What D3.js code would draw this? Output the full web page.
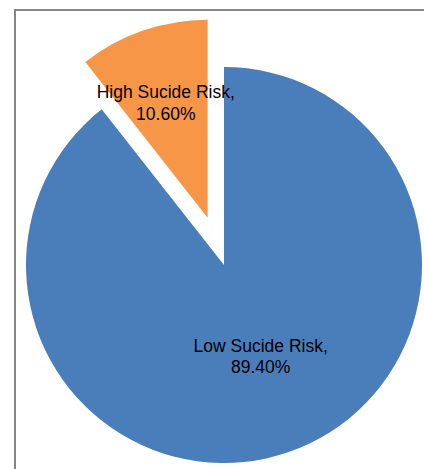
<!DOCTYPE html>
<html>
<head>
<meta charset="utf-8">
<script src="https://cdn.jsdelivr.net/npm/d3@7"></script>
<style>
  html, body { margin: 0; padding: 0; background: #fff; }
  svg { display: block; }
</style>
</head>
<body>
<svg id="chart" width="424" height="469"></svg>
<script>
const categories = ["High Sucide Risk", "Low Sucide Risk"];
const values = [10.6, 89.4];
const labels = ["10.60%", "89.40%"];
const colors = ["#F79646", "#4A7EBB"];

const svg = d3.select("#chart");
const W = 424, H = 469;

// chart border (clipped by the window at right and bottom)
svg.append("path")
  .attr("d", `M15,${H} L15,10 L${W},10`)
  .attr("fill", "none")
  .attr("stroke", "#868686")
  .attr("stroke-width", 2);

const cx = 224, cy = 265, R = 198, explode = 50;

const data = categories.map((c, i) => ({ cat: c, value: values[i], label: labels[i], color: colors[i] }));

const total = d3.sum(values);
const pie = d3.pie()
  .sort(null)
  .value(d => d.value)
  .startAngle(-2 * Math.PI * values[0] / total)
  .endAngle(2 * Math.PI - 2 * Math.PI * values[0] / total);

const arcs = pie(data);
const arc = d3.arc().innerRadius(0).outerRadius(R);

const g = svg.append("g").attr("transform", `translate(${cx},${cy})`);
const sliceLayer = g.append("g");
const labelLayer = g.append("g");

const labelR = [122, 100];
const labelShift = [[-2, 1], [4, -3]];

arcs.forEach((a, i) => {
  const mid = (a.startAngle + a.endAngle) / 2;
  const off = i === 0 ? explode : 0;
  const ox = Math.sin(mid) * off, oy = -Math.cos(mid) * off;
  sliceLayer.append("path")
    .attr("transform", `translate(${ox},${oy})`)
    .attr("d", arc(a))
    .attr("fill", a.data.color);
  const lx = ox + Math.sin(mid) * labelR[i] + labelShift[i][0];
  const ly = oy - Math.cos(mid) * labelR[i] + labelShift[i][1];
  const t = labelLayer.append("text")
    .attr("x", lx).attr("y", ly)
    .attr("text-anchor", "middle")
    .attr("font-family", "Liberation Sans, Arial, sans-serif")
    .attr("font-size", "17.5px")
    .attr("fill", "#000");
  t.append("tspan").attr("x", lx).attr("dy", -5).text(a.data.cat + ",");
  t.append("tspan").attr("x", lx).attr("dy", 21.5).text(a.data.label);
});
</script>
</body>
</html>
